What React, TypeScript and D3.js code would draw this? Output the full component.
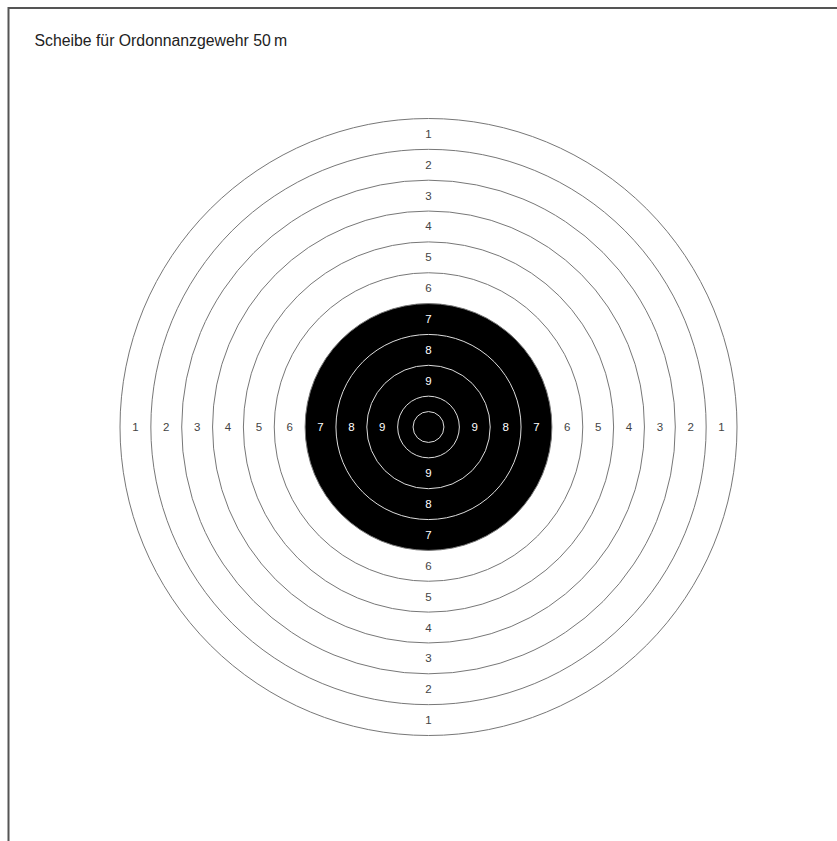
import React from "react";
import * as d3 from "d3";

const title = "Scheibe für Ordonnanzgewehr 50\u2009m";
const ringScores = [1, 2, 3, 4, 5, 6, 7, 8, 9, 10];
const labelScores = [1, 2, 3, 4, 5, 6, 7, 8, 9];
const innerRingScore = 10.5;
const blackFromScore = 7;
const directions = [0, 90, 180, 270];

const W = 837;
const H = 841;
const cx = 428.5;
const cy = 427;

export default function App() {
  const r = d3.scaleLinear().domain([1, 11]).range([308.5, 0]);
  const rad = (deg: number) => (deg * Math.PI) / 180;

  return (
    <svg
      width={W}
      height={H}
      style={{ position: "absolute", left: 0, top: 0, background: "#fff" }}
      fontFamily="'Liberation Sans', Arial, sans-serif"
    >
      <rect x={0} y={0} width={W} height={H} fill="#fff" />
      <path d={`M8.5,${H} V8 H${W}`} fill="none" stroke="#555" strokeWidth={2} />
      <text x={34.5} y={46} fontSize={15.8} fill="#222">
        {title}
      </text>
      <g transform={`translate(${cx},${cy})`}>
        {ringScores.map((s) => (
          <circle
            key={"c" + s}
            r={r(s)}
            fill={s >= blackFromScore ? "#000" : "#fff"}
            stroke={s > blackFromScore ? "#ddd" : "#777"}
            strokeWidth={1}
          />
        ))}
        <circle r={r(innerRingScore)} fill="none" stroke="#ddd" strokeWidth={1} />
        {labelScores.map((s) => {
          const mid = (r(s) + r(s + 1)) / 2;
          return directions.map((d) => (
            <text
              key={`l${s}-${d}`}
              x={mid * Math.cos(rad(d))}
              y={mid * Math.sin(rad(d))}
              textAnchor="middle"
              dominantBaseline="central"
              fontSize={11.5}
              fill={s >= blackFromScore ? "#fff" : "#444"}
            >
              {s}
            </text>
          ));
        })}
      </g>
    </svg>
  );
}
